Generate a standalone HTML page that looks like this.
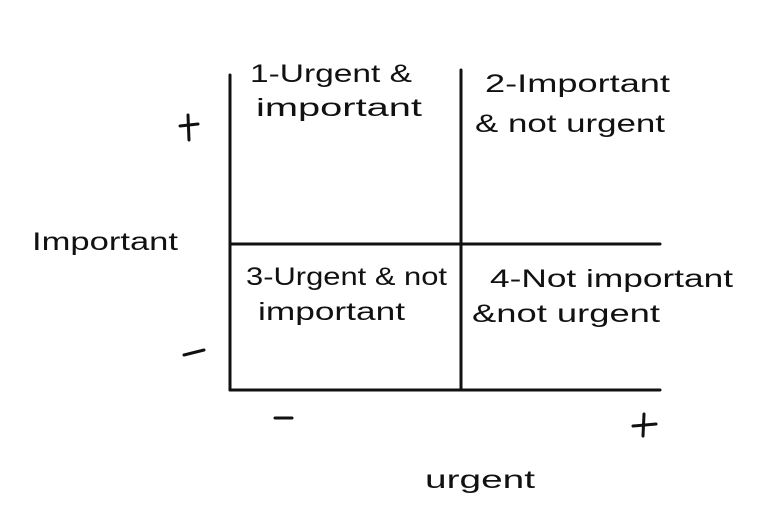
<!DOCTYPE html>
<html><head><style>
body{margin:0;background:#fff;}
svg text{font-family:"Liberation Sans",sans-serif;fill:#111;}
</style></head><body>
<svg width="783" height="527" viewBox="0 0 783 527" xmlns="http://www.w3.org/2000/svg">
<g stroke="#111" stroke-width="3" fill="none" stroke-linecap="round">
<line x1="230" y1="75" x2="230" y2="390"/>
<line x1="461" y1="70" x2="461" y2="390"/>
<line x1="230" y1="244" x2="660" y2="244"/>
<line x1="230" y1="390" x2="660" y2="390"/>
<line x1="180" y1="126" x2="198" y2="124"/>
<line x1="188" y1="115" x2="189" y2="140"/>
<line x1="184" y1="355" x2="204" y2="350"/>
<line x1="275" y1="418" x2="292" y2="418"/>
<line x1="633" y1="426" x2="656" y2="424"/>
<line x1="644" y1="414" x2="643" y2="436"/>
</g>
<g font-size="25" lengthAdjust="spacingAndGlyphs">
<text x="250" y="82" textLength="162" lengthAdjust="spacingAndGlyphs">1-Urgent &amp;</text>
<text x="256" y="116" textLength="166" lengthAdjust="spacingAndGlyphs">important</text>
<text x="485" y="92" textLength="185" lengthAdjust="spacingAndGlyphs">2-Important</text>
<text x="475" y="132" textLength="190" lengthAdjust="spacingAndGlyphs">&amp; not urgent</text>
<text x="246" y="285" textLength="201" lengthAdjust="spacingAndGlyphs">3-Urgent &amp; not</text>
<text x="258" y="320" textLength="147" lengthAdjust="spacingAndGlyphs">important</text>
<text x="490" y="287" textLength="243" lengthAdjust="spacingAndGlyphs">4-Not important</text>
<text x="472" y="322" textLength="188" lengthAdjust="spacingAndGlyphs">&amp;not urgent</text>
<text x="32" y="250" textLength="146" lengthAdjust="spacingAndGlyphs">Important</text>
<text x="425" y="488" textLength="110" lengthAdjust="spacingAndGlyphs">urgent</text>
</g>
</svg>
</body></html>
